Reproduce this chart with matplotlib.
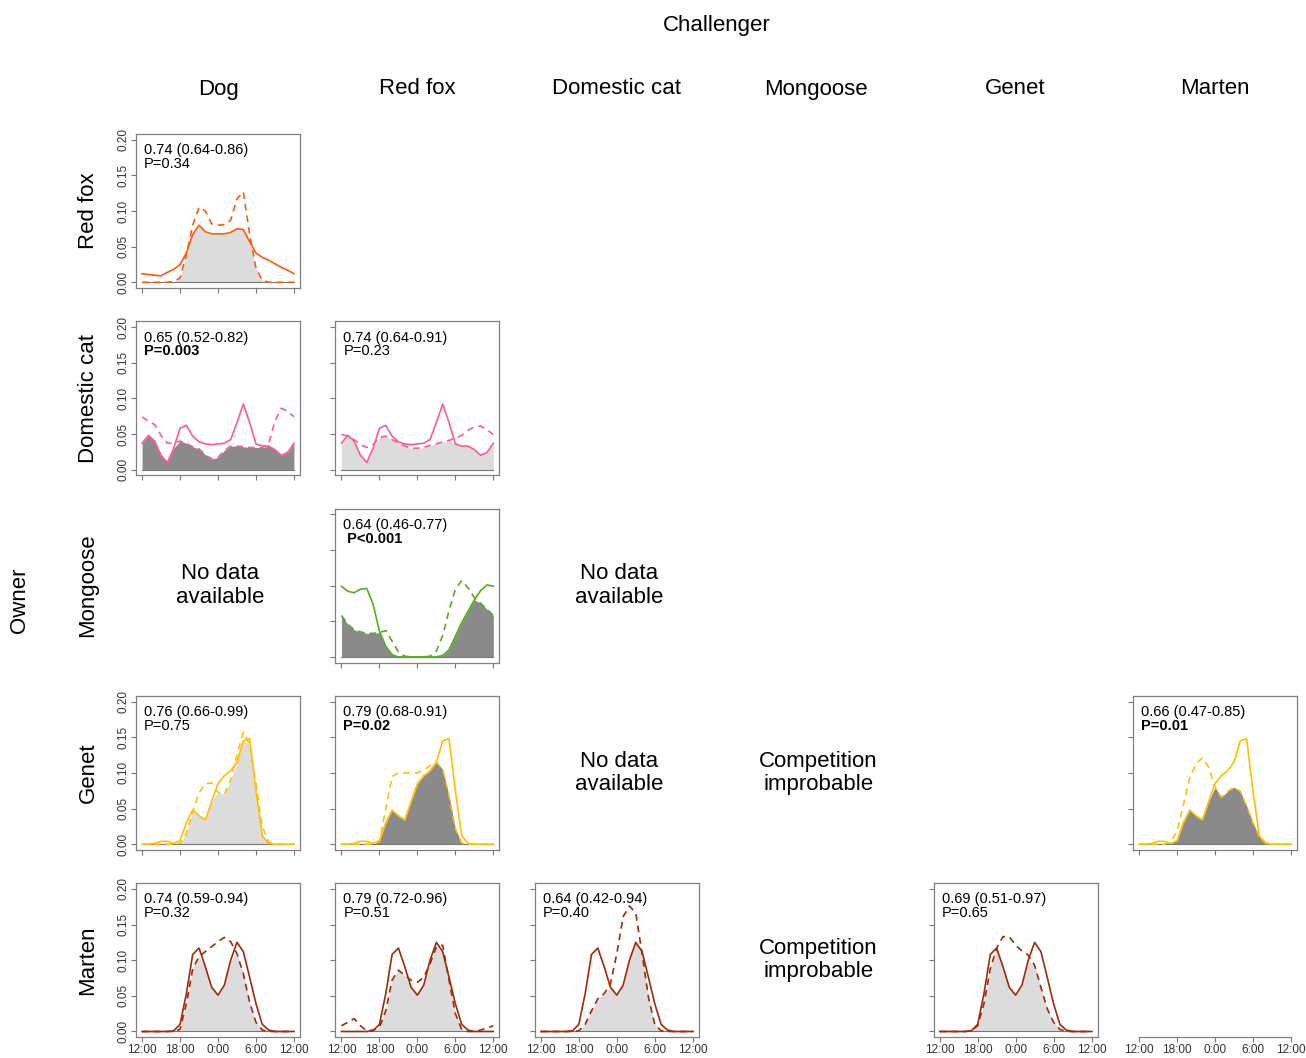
import numpy as np
import matplotlib.pyplot as plt

plt.rcParams['font.family'] = ['Liberation Sans', 'DejaVu Sans']

# hours after noon: 0 = 12:00, 6 = 18:00, 12 = 0:00, 18 = 6:00, 24 = 12:00
hours = np.arange(25)
time_ticks = [0, 6, 12, 18, 24]
time_labels = ['12:00', '18:00', '0:00', '6:00', '12:00']
dens_ticks = [0.0, 0.05, 0.10, 0.15, 0.20]

owners = ['Red fox', 'Domestic cat', 'Mongoose', 'Genet', 'Marten']
challengers = ['Dog', 'Red fox', 'Domestic cat', 'Mongoose', 'Genet', 'Marten']
owner_colors = ['#FF5B0A', '#FF5C8D', '#4DB31A', '#FFC000', '#A3290A']

# owner activity (solid), one curve per row
redfox_alone = [0.012, 0.011, 0.010, 0.009, 0.014, 0.018, 0.025, 0.041, 0.067, 0.080, 0.071, 0.068, 0.068,
                0.068, 0.070, 0.075, 0.074, 0.057, 0.041, 0.035, 0.031, 0.026, 0.021, 0.017, 0.012]
cat_alone = [0.037, 0.048, 0.040, 0.020, 0.010, 0.030, 0.058, 0.062, 0.047, 0.039, 0.036, 0.035, 0.036,
             0.037, 0.042, 0.066, 0.092, 0.066, 0.036, 0.033, 0.033, 0.028, 0.020, 0.024, 0.037]
mongoose_alone = [0.099, 0.092, 0.090, 0.095, 0.096, 0.074, 0.036, 0.015, 0.003, 0, 0, 0, 0,
                  0, 0, 0, 0.002, 0.010, 0.029, 0.048, 0.064, 0.080, 0.093, 0.101, 0.099]
genet_alone = [0, 0, 0.001, 0.004, 0.004, 0.001, 0.005, 0.030, 0.048, 0.040, 0.034, 0.060, 0.085,
               0.096, 0.103, 0.115, 0.145, 0.148, 0.075, 0.012, 0.001, 0, 0, 0, 0]
marten_alone = [0, 0, 0, 0, 0, 0.001, 0.010, 0.053, 0.108, 0.117, 0.091, 0.062, 0.051,
                0.065, 0.100, 0.125, 0.112, 0.076, 0.039, 0.010, 0.002, 0, 0, 0, 0]

# owner activity with challenger (dashed)
redfox_dog = [0, 0, 0, 0, 0, 0.001, 0.006, 0.039, 0.080, 0.105, 0.100, 0.082, 0.080,
              0.081, 0.087, 0.117, 0.127, 0.067, 0.020, 0.003, 0, 0, 0, 0, 0]
cat_dog = [0.074, 0.068, 0.063, 0.048, 0.037, 0.037, 0.040, 0.037, 0.032, 0.029, 0.021, 0.015, 0.017,
           0.027, 0.033, 0.033, 0.032, 0.031, 0.031, 0.031, 0.036, 0.068, 0.086, 0.082, 0.074]
cat_fox = [0.049, 0.047, 0.042, 0.035, 0.031, 0.035, 0.045, 0.047, 0.042, 0.038, 0.033, 0.030, 0.030,
           0.031, 0.034, 0.036, 0.039, 0.041, 0.044, 0.048, 0.055, 0.060, 0.061, 0.056, 0.049]
mongoose_fox = [0.058, 0.046, 0.038, 0.035, 0.033, 0.033, 0.034, 0.037, 0.022, 0.007, 0.001, 0, 0,
                0, 0.001, 0.008, 0.030, 0.065, 0.095, 0.107, 0.097, 0.083, 0.075, 0.067, 0.058]
genet_dog = [0, 0, 0, 0, 0, 0, 0.001, 0.015, 0.045, 0.072, 0.085, 0.086, 0.073,
             0.070, 0.090, 0.125, 0.157, 0.140, 0.085, 0.025, 0.003, 0, 0, 0, 0]
genet_fox = [0, 0, 0, 0, 0, 0, 0.004, 0.050, 0.095, 0.100, 0.100, 0.100, 0.100,
             0.104, 0.110, 0.115, 0.105, 0.068, 0.022, 0.002, 0, 0, 0, 0, 0]
genet_marten = [0, 0, 0, 0, 0, 0.004, 0.018, 0.055, 0.093, 0.113, 0.121, 0.108, 0.080,
                0.066, 0.074, 0.080, 0.074, 0.054, 0.030, 0.011, 0.002, 0, 0, 0, 0]
marten_dog = [0, 0, 0, 0, 0, 0, 0.003, 0.039, 0.088, 0.105, 0.112, 0.119, 0.126,
              0.132, 0.126, 0.109, 0.081, 0.041, 0.013, 0.002, 0, 0, 0, 0, 0]
marten_fox = [0.008, 0.013, 0.018, 0.008, 0.001, 0.002, 0.006, 0.029, 0.072, 0.086, 0.079, 0.072, 0.069,
              0.076, 0.095, 0.119, 0.121, 0.072, 0.025, 0.003, 0, 0, 0.002, 0.005, 0.008]
marten_cat = [0, 0, 0, 0, 0, 0, 0.001, 0.010, 0.029, 0.046, 0.053, 0.067, 0.109,
              0.161, 0.176, 0.166, 0.109, 0.048, 0.010, 0.001, 0, 0, 0, 0, 0]
marten_genet = [0, 0, 0, 0, 0, 0.001, 0.008, 0.039, 0.088, 0.117, 0.133, 0.133, 0.121,
                0.113, 0.107, 0.093, 0.062, 0.032, 0.013, 0.003, 0, 0, 0, 0, 0]

owner_curves = [redfox_alone, cat_alone, mongoose_alone, genet_alone, marten_alone]

# (row, col, dashed curve, overlap text, P text, significant)
panels = [
    (0, 0, redfox_dog, '0.74 (0.64-0.86)', 'P=0.34', False),
    (1, 0, cat_dog, '0.65 (0.52-0.82)', 'P=0.003', True),
    (1, 1, cat_fox, '0.74 (0.64-0.91)', 'P=0.23', False),
    (2, 1, mongoose_fox, '0.64 (0.46-0.77)', ' P<0.001', True),
    (3, 0, genet_dog, '0.76 (0.66-0.99)', 'P=0.75', False),
    (3, 1, genet_fox, '0.79 (0.68-0.91)', 'P=0.02', True),
    (3, 5, genet_marten, '0.66 (0.47-0.85)', 'P=0.01', True),
    (4, 0, marten_dog, '0.74 (0.59-0.94)', 'P=0.32', False),
    (4, 1, marten_fox, '0.79 (0.72-0.96)', 'P=0.51', False),
    (4, 2, marten_cat, '0.64 (0.42-0.94)', 'P=0.40', False),
    (4, 4, marten_genet, '0.69 (0.51-0.97)', 'P=0.65', False),
]
notes = [
    (2, 0, 'No data\navailable'),
    (2, 2, 'No data\navailable'),
    (3, 2, 'No data\navailable'),
    (3, 3, 'Competition\nimprobable'),
    (4, 3, 'Competition\nimprobable'),
]

W, H = 1306, 1058
fig = plt.figure(figsize=(W / 100, H / 100), dpi=100)
box_w, box_h = 164, 154


def box_left(col):
    return 136 + 199.4 * col


def box_top(row):
    return 134 + 187.3 * row


def make_axes(row, col):
    l, t = box_left(col), box_top(row)
    ax = fig.add_axes([l / W, 1 - (t + box_h) / H, box_w / W, box_h / H])
    ax.set_xlim(-0.96, 24.96)
    ax.set_ylim(-0.008, 0.208)
    ax.set_xticks(time_ticks)
    ax.set_yticks(dens_ticks)
    ax.tick_params(direction='out', length=3.5, width=0.8, color='#777777',
                   labelsize=8.5, labelcolor='#333333', pad=1.5)
    ax.tick_params(axis='y', labelrotation=90)
    for s in ax.spines.values():
        s.set_color('#808080')
        s.set_linewidth(0.9)
    if col == 0:
        ax.set_yticklabels(['0.00', '0.05', '0.10', '0.15', '0.20'], va='center')
    else:
        ax.set_yticklabels([])
    if row == 4:
        ax.set_xticklabels(time_labels)
    else:
        ax.set_xticklabels([])
    return ax


for row, col, dashed, ovl, ptxt, sig in panels:
    ax = make_axes(row, col)
    solid = np.array(owner_curves[row])
    dashed = np.array(dashed)
    overlap = np.minimum(solid, dashed)
    color = owner_colors[row]
    ax.fill_between(hours, 0, overlap, color='#8A8A8A' if sig else '#DCDCDC', lw=0, zorder=1)
    ax.plot([0, 24], [0, 0], color='#777777', lw=0.8, zorder=1.5)
    ax.plot(hours, dashed, color=color, lw=1.2, dashes=(4, 3), zorder=2)
    ax.plot(hours, solid, color=color, lw=1.2, zorder=3)
    ax.text(0.049, 0.94, ovl, transform=ax.transAxes, ha='left', va='top', fontsize=10.5)
    ax.text(0.049, 0.851, ptxt, transform=ax.transAxes, ha='left', va='top', fontsize=10.5,
            fontweight='bold' if sig else 'normal')

# Marten vs Marten: only the time axis
ax = make_axes(4, 5)
for side in ['top', 'left', 'right']:
    ax.spines[side].set_visible(False)
ax.spines['bottom'].set_bounds(0, 24)
ax.set_yticks([])

for row, col, txt in notes:
    fig.text((box_left(col) + box_w / 2 + 2) / W, 1 - (box_top(row) + box_h / 2) / H, txt,
             ha='center', va='center', fontsize=16, linespacing=1.15)

fig.text(717 / W, 1 - 25 / H, 'Challenger', ha='center', va='center', fontsize=16)
for col, name in enumerate(challengers):
    fig.text((box_left(col) + box_w / 2) / W, 1 - 89 / H, name, ha='center', va='center', fontsize=16)
for row, name in enumerate(owners):
    fig.text(88 / W, 1 - (box_top(row) + box_h / 2) / H, name, ha='center', va='center',
             rotation=90, fontsize=16)
fig.text(20 / W, 1 - 600 / H, 'Owner', ha='center', va='center', rotation=90, fontsize=16)

fig.savefig('out.png', dpi=100)
